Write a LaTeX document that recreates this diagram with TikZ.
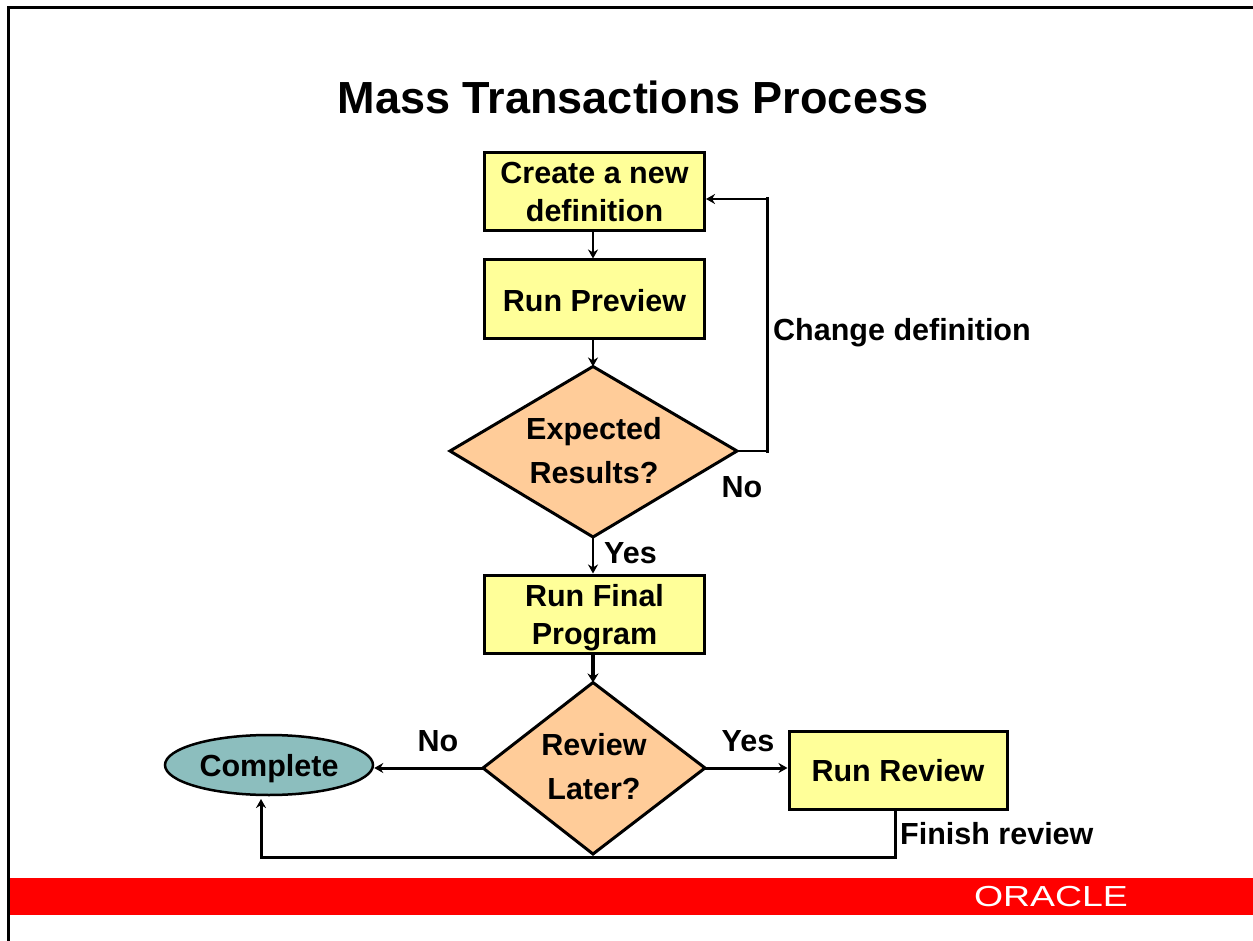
\documentclass[tikz,border=0pt]{standalone}
\usepackage{fontspec}
\setmainfont{Liberation Sans}
\usetikzlibrary{shapes.geometric,arrows.meta}
\definecolor{boxy}{RGB}{255,255,153}
\definecolor{diao}{RGB}{255,204,153}
\definecolor{teal1}{RGB}{140,190,190}
\definecolor{oracle}{RGB}{255,0,0}
\newcommand\lowerby[1]{\rule{0pt}{#1pt}}
\tikzset{
  flowbox/.style={draw=black,line width=3pt,fill=boxy,inner sep=0pt,align=center,font=\fontsize{30.5}{38}\selectfont\bfseries},
  flowell/.style={draw=black,line width=2.5pt,fill=teal1,ellipse,inner sep=0pt,font=\fontsize{30.5}{36}\selectfont\bfseries},
  dialab/.style={inner sep=0pt,align=center,font=\fontsize{30.5}{44}\selectfont\bfseries},
  lab/.style={inner sep=0pt,font=\fontsize{30.5}{36}\selectfont\bfseries},
  conn/.style={draw=black,line width=3pt},
  tip/.style={-{Stealth[length=9pt,width=10pt]}},
  thinline/.style={draw=black,line width=2pt},
  thinarr/.style={thinline,tip},
  arr/.style={conn,tip},
  heavyarr/.style={draw=black,line width=4pt,-{Stealth[length=9pt,width=11pt]}}
}
\begin{document}
\begin{tikzpicture}[x=1pt,y=-1pt]
\useasboundingbox (0,0) rectangle (1253,941);
\fill[white] (0,0) rectangle (1253,941);
\coordinate (frameA) at (8.5,941);
\coordinate (frameB) at (8.5,7.5);
\coordinate (frameC) at (1253,7.5);
\draw[line width=3pt] (frameA) -- (frameB) -- (frameC);
\fill[oracle] (10,878) rectangle (1253,915);
\node[inner sep=0pt,text=white,xscale=1.29,font=\fontsize{29}{30}\selectfont] (logo) at (1051,896.5) {ORACLE};
\node[inner sep=0pt,font=\fontsize{45}{50}\selectfont\bfseries] (title) at (633,97) {Mass Transactions Process};
\node[flowbox,minimum width=220pt,minimum height=78pt] (create) at (594.5,192) {Create a new\\definition};
\node[flowbox,minimum width=220pt,minimum height=78pt,text height=30pt,text depth=5pt] (preview) at (594.5,299) {Run Preview};
\path[conn,fill=diao] (593,366.5) coordinate (etop) -- (737,451) coordinate (eright) -- (593,537) coordinate (ebot) -- (450,451) coordinate (eleft) -- cycle;
\node[dialab] (expected) at (594,451) {Expected\\Results?};
\node[flowbox,minimum width=220pt,minimum height=78pt] (final) at (594.5,614) {\lowerby{30}Run Final\\Program};
\path[conn,fill=diao] (593,682.5) coordinate (rtop) -- (705,768) coordinate (rright) -- (593,854) coordinate (rbot) -- (483,768) coordinate (rleft) -- cycle;
\node[dialab] (later) at (594,767) {Review\\Later?};
\node[flowell,minimum width=208pt,minimum height=60pt,text height=26pt,text depth=4pt] (complete) at (269,765) {Complete};
\node[flowbox,minimum width=218pt,minimum height=78pt,text height=26pt,text depth=4pt] (review) at (898,770) {Run Review};
\node[lab,anchor=west] (lchange) at (773,333) {Change definition};
\node[lab] (lno1) at (742,487) {No};
\node[lab,anchor=west] (lyes1) at (604,553) {Yes};
\node[lab] (lno2) at (438,741) {No};
\node[lab] (lyes2) at (748,741) {Yes};
\node[lab,anchor=west] (lfinish) at (900,834) {Finish review};
\coordinate (fbtop) at (767,199);
\coordinate (fbbot) at (767,451);
\coordinate (retbot) at (895,857);
\coordinate (retleft) at (261,857);
\coordinate (rettip) at (261,799);
\draw[thinarr] (create.south -| etop) -- (preview.north -| etop);
\draw[thinarr] (preview.south -| etop) -- (etop);
\draw[thinarr] (ebot) -- (final.north -| ebot);
\draw[heavyarr] (final.south -| rtop) -- (rtop);
\draw[arr] (rleft) -- (complete.east |- rleft);
\draw[arr] (rright) -- (review.west |- rright);
\draw[thinline] (eright) -- (fbbot);
\draw[conn,line cap=rect] (fbbot) -- (fbtop);
\draw[thinarr] (fbtop) -- (create.east |- fbtop);
\draw[arr,line join=miter] (review.south -| retbot) -- (retbot) -- (retleft) -- (rettip);
\end{tikzpicture}
\end{document}
